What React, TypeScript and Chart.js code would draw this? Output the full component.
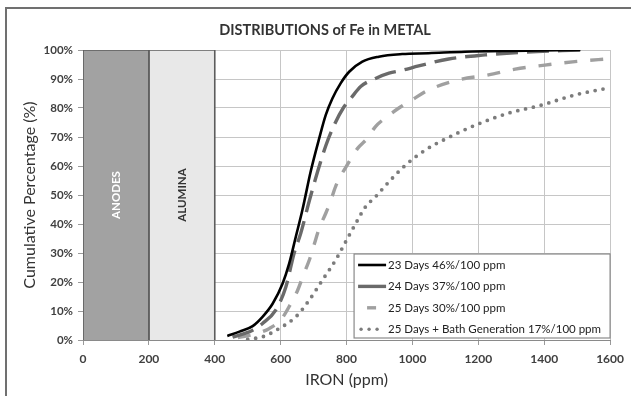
import React, { useEffect, useRef } from "react";
import { Chart, registerables } from "chart.js";

Chart.register(...registerables);

const chartTitle = "DISTRIBUTIONS of Fe in METAL";
const xAxisTitle = "IRON (ppm)";
const yAxisTitle = "Cumulative Percentage (%)";

const seriesNames = [
  "23 Days 46%/100 ppm",
  "24 Days 37%/100 ppm",
  "25 Days 30%/100 ppm",
  "25 Days + Bath Generation 17%/100 ppm",
];

// 23 Days
const x23 = [438, 475, 515, 545, 576, 606, 626, 646, 666, 691, 717, 737, 757, 782, 808, 848, 898, 969, 1049, 1160, 1300, 1510];
const y23 = [1.4, 2.9, 4.8, 8, 12.6, 19.5, 26.4, 35.6, 44.8, 58, 69.5, 77.6, 83.3, 88.5, 92.5, 96, 97.7, 98.6, 98.9, 99.4, 99.7, 100];

// 24 Days
const x24 = [454, 515, 545, 585, 616, 641, 661, 687, 712, 737, 762, 790, 813, 843, 888, 929, 969, 1019, 1110, 1221, 1343, 1510];
const y24 = [1, 3.4, 5.7, 10.3, 18.4, 30, 36.8, 48, 58, 67, 74, 80, 83.3, 87.4, 90.2, 92, 93, 94.5, 96.9, 98.3, 99.3, 100];

// 25 Days
const x25 = [470, 520, 566, 601, 631, 651, 671, 687, 702, 717, 737, 752, 767, 808, 833, 863, 888, 923, 959, 999, 1049, 1140, 1231, 1312, 1402, 1493, 1600];
const y25 = [0.8, 2, 4, 7, 12.6, 17, 23, 27.6, 33, 38.5, 43.7, 48, 53, 61.5, 66, 69.5, 73.6, 77, 80, 82.8, 86.2, 89.7, 91.4, 93.4, 94.8, 96, 97];

// 25 Days + Bath Generation
const xBath = [500, 545, 596, 646, 687, 727, 767, 798, 828, 858, 888, 929, 979, 1039, 1100, 1191, 1291, 1392, 1493, 1600];
const yBath = [0.3, 1.1, 4, 8, 13.8, 20.7, 27.6, 34, 40.2, 46, 49.4, 54.6, 60.3, 65.5, 69.3, 74.1, 78.2, 81, 84.5, 87];

// Shaded zones
const zoneNames = ["ANODES", "ALUMINA"];
const zoneStart = [0, 200];
const zoneEnd = [200, 400];
const zoneTop = 100;

const xTickValues = [0, 200, 400, 600, 800, 1000, 1200, 1400, 1600];
const yTickValues = [0, 10, 20, 30, 40, 50, 60, 70, 80, 90, 100];

const FONT = "Lato, 'Open Sans', sans-serif";

const seriesStyle = [
  { color: "#000000", width: 2.6, dash: [] as number[], cap: "butt" },
  { color: "#6a6a6a", width: 3.4, dash: [22, 9], cap: "butt" },
  { color: "#a0a0a0", width: 3.4, dash: [13, 13], cap: "butt" },
  { color: "#7c7c7c", width: 3.8, dash: [0, 8], cap: "round" },
];
const zoneFill = ["#a2a2a2", "#e8e8e8"];
const zoneText = ["#ffffff", "#333333"];

const toPts = (xs: number[], ys: number[]) => xs.map((x, i) => ({ x, y: ys[i] }));

const framePlugin = {
  id: "frame",
  beforeDraw(chart: any) {
    const ctx = chart.ctx;
    ctx.save();
    ctx.fillStyle = "#ffffff";
    ctx.fillRect(0, 0, chart.width, chart.height);
    ctx.strokeStyle = "#707070";
    ctx.lineWidth = 2;
    ctx.beginPath();
    ctx.moveTo(6, chart.height);
    ctx.lineTo(6, 8);
    ctx.lineTo(chart.width, 8);
    ctx.stroke();
    ctx.font = `bold 14.5px ${FONT}`;
    ctx.fillStyle = "#333333";
    ctx.textAlign = "center";
    ctx.textBaseline = "middle";
    ctx.fillText(chartTitle, 325, 30);
    ctx.restore();
  },
};

const zoneLabelPlugin = {
  id: "zoneLabels",
  afterDatasetsDraw(chart: any) {
    const ctx = chart.ctx;
    const xs = chart.scales.x;
    const ys = chart.scales.y;
    zoneNames.forEach((name, i) => {
      const cx = xs.getPixelForValue((zoneStart[i] + zoneEnd[i]) / 2);
      const cy = ys.getPixelForValue(zoneTop / 2);
      ctx.save();
      ctx.translate(cx, cy);
      ctx.rotate(-Math.PI / 2);
      ctx.font = `bold 11.5px ${FONT}`;
      ctx.fillStyle = zoneText[i];
      ctx.textAlign = "center";
      ctx.textBaseline = "middle";
      ctx.fillText(name, 0, 0);
      ctx.restore();
    });
  },
};

const legendPlugin = {
  id: "boxLegend",
  afterDraw(chart: any) {
    const ctx = chart.ctx;
    const area = chart.chartArea;
    const w = 256;
    const h = 84;
    const x0 = area.right - w;
    const y0 = area.bottom - h - 2;
    ctx.save();
    ctx.fillStyle = "#ffffff";
    ctx.fillRect(x0, y0, w, h);
    ctx.strokeStyle = "#8a8a8a";
    ctx.lineWidth = 1.2;
    ctx.strokeRect(x0, y0, w, h);
    seriesNames.forEach((name, i) => {
      const cy = y0 + 11 + i * 21.4;
      const st = seriesStyle[i];
      ctx.strokeStyle = st.color;
      ctx.lineWidth = st.width;
      ctx.lineCap = st.cap;
      ctx.setLineDash([]);
      ctx.beginPath();
      if (i < 2) {
        ctx.moveTo(x0 + 4, cy);
        ctx.lineTo(x0 + 32, cy);
        ctx.stroke();
      } else if (i === 2) {
        ctx.moveTo(x0 + 13, cy);
        ctx.lineTo(x0 + 22, cy);
        ctx.stroke();
      } else {
        for (let k = 0; k < 3; k++) {
          ctx.beginPath();
          ctx.fillStyle = st.color;
          ctx.arc(x0 + 7 + k * 8, cy, 1.7, 0, Math.PI * 2);
          ctx.fill();
        }
      }
      ctx.font = `11.5px ${FONT}`;
      ctx.fillStyle = "#222222";
      ctx.textAlign = "left";
      ctx.textBaseline = "middle";
      ctx.fillText(name, x0 + 34, cy);
    });
    ctx.restore();
  },
};

export default function App() {
  const canvasRef = useRef<HTMLCanvasElement | null>(null);

  useEffect(() => {
    if (!canvasRef.current) return;
    const lineSets = [
      [x23, y23],
      [x24, y24],
      [x25, y25],
      [xBath, yBath],
    ].map(([xs, ys], i) => ({
      type: "line",
      label: seriesNames[i],
      data: toPts(xs, ys),
      borderColor: seriesStyle[i].color,
      borderWidth: seriesStyle[i].width,
      borderDash: seriesStyle[i].dash,
      borderCapStyle: seriesStyle[i].cap,
      pointRadius: 0,
      fill: false,
      cubicInterpolationMode: "monotone",
      order: i,
    }));
    const zoneSets = zoneNames.map((name, i) => ({
      type: "line",
      label: name,
      data: [
        { x: zoneStart[i], y: 0 },
        { x: zoneStart[i], y: zoneTop },
        { x: zoneEnd[i], y: zoneTop },
        { x: zoneEnd[i], y: 0 },
      ],
      borderColor: "#5c5c5c",
      borderWidth: 1.6,
      backgroundColor: zoneFill[i],
      fill: "origin",
      pointRadius: 0,
      tension: 0,
      order: 10,
    }));

    const chart = new Chart(canvasRef.current, {
      type: "line",
      data: { datasets: [...lineSets, ...zoneSets] as any },
      options: {
        animation: false,
        responsive: false,
        maintainAspectRatio: false,
        layout: { padding: { top: 50, right: 19, bottom: 0, left: 0 } },
        plugins: {
          legend: { display: false },
          title: { display: false },
          tooltip: { enabled: false },
        },
        scales: {
          x: {
            type: "linear",
            min: 0,
            max: 1600,
            afterBuildTicks: (s: any) => {
              s.ticks = xTickValues.map((v) => ({ value: v }));
            },
            afterFit: (s: any) => {
              s.height = 56;
            },
            grid: { color: "#c6c6c6", lineWidth: 1, tickLength: 5, tickColor: "#9a9a9a" },
            border: { display: true, color: "#8a8a8a", width: 1 },
            ticks: {
              padding: 7,
              color: "#404040",
              font: { family: FONT, size: 12, weight: "bold" },
              maxRotation: 0,
              callback: (v: any) => String(v),
            },
            title: {
              display: true,
              text: xAxisTitle,
              color: "#333333",
              font: { family: FONT, size: 16 },
              padding: { top: 0, bottom: 7 },
            },
          },
          y: {
            type: "linear",
            min: 0,
            max: 100,
            afterBuildTicks: (s: any) => {
              s.ticks = yTickValues.map((v) => ({ value: v }));
            },
            afterFit: (s: any) => {
              s.width = 83;
            },
            grid: { color: "#c6c6c6", lineWidth: 1, tickLength: 5, tickColor: "#9a9a9a" },
            border: { display: true, color: "#8a8a8a", width: 1 },
            ticks: {
              padding: 5,
              color: "#404040",
              font: { family: FONT, size: 11.5, weight: "bold" },
              callback: (v: any) => `${v}%`,
            },
            title: {
              display: true,
              text: yAxisTitle,
              color: "#333333",
              font: { family: FONT, size: 16 },
              padding: { top: 20, bottom: 0 },
            },
          },
        },
      } as any,
      plugins: [framePlugin, zoneLabelPlugin, legendPlugin],
    });
    return () => chart.destroy();
  }, []);

  return (
    <div style={{ position: "fixed", left: 0, top: 0, width: 631, height: 396 }}>
      <canvas ref={canvasRef} width={631} height={396} style={{ display: "block" }} />
    </div>
  );
}
